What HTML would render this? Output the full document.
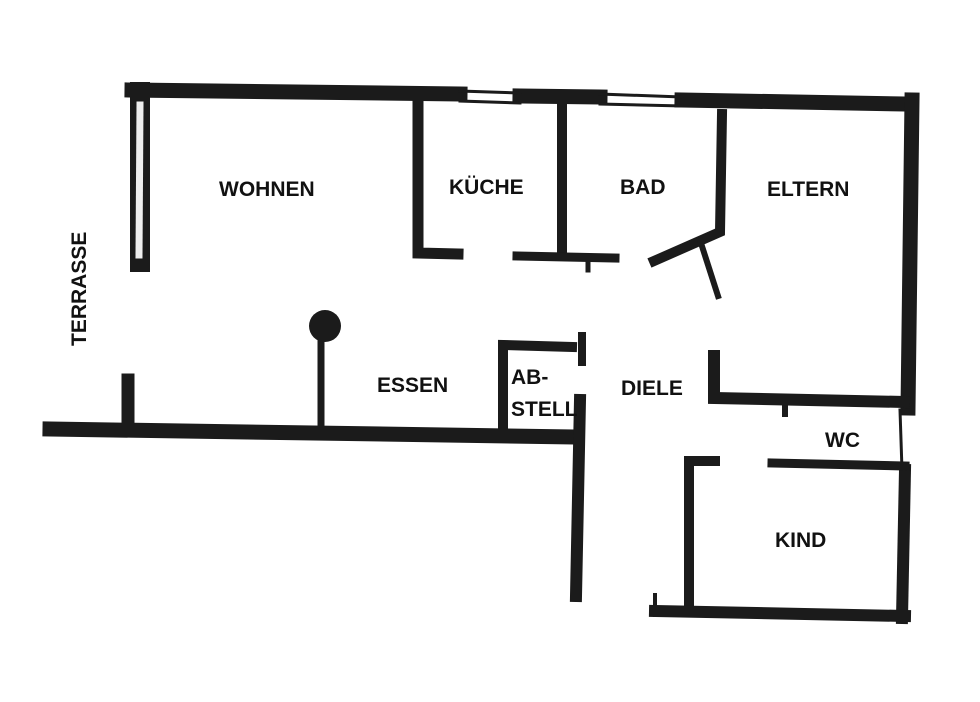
<!DOCTYPE html>
<html><head><meta charset="utf-8"><style>
html,body{margin:0;padding:0;background:#fff;width:980px;height:702px;overflow:hidden}
svg{display:block}
text{font-family:"Liberation Sans",sans-serif;font-weight:bold;font-size:21px;fill:#111}
</style></head><body>
<svg width="980" height="702" viewBox="0 0 980 702">
<g stroke="#1b1b1b" stroke-linecap="square" fill="none">
<path d="M132 90 L460 94 M520 96 L600 97 M682 100 L905 104" stroke-width="15"/>
<path d="M460 91 L520 93 M460 101 L520 103 M600 94 L682 97 M600 104 L682 106" stroke-width="3"/>
<path d="M140 92 L140 262" stroke-width="20"/>
<path d="M140 105 L139 255" stroke="#eee" stroke-width="7"/>
<path d="M912 100 L908 408" stroke-width="15"/>
<path d="M900 410 L902 470" stroke-width="3"/>
<path d="M905 470 L902 618" stroke-width="12"/>
<path d="M418 102 L418 253 L458 254" stroke-width="11"/>
<path d="M562 108 L562 256" stroke-width="10"/>
<path d="M517 256 L615 258" stroke-width="9"/>
<path d="M588 258 L588 270" stroke-width="5"/>
<path d="M722 114 L720 232 L654 261" stroke-width="10"/>
<path d="M700 240 L718 296" stroke-width="6"/>
<path d="M714 356 L714 398 L904 402" stroke-width="12"/>
<path d="M785 402 L785 414" stroke-width="6"/>
<path d="M50 429 L575 437" stroke-width="15"/>
<path d="M128 380 L128 422" stroke-width="13"/>
<path d="M321 330 L321 432" stroke-width="7"/>
<path d="M503 434 L503 345 L572 347" stroke-width="10"/>
<path d="M582 336 L582 362" stroke-width="8"/>
<path d="M580 400 L576 596" stroke-width="12"/>
<path d="M715 461 L689 461 L689 612" stroke-width="10"/>
<path d="M772 463 L905 466" stroke-width="9"/>
<path d="M655 611 L905 616" stroke-width="12"/>
<path d="M655 595 L655 615" stroke-width="4"/>
</g>
<circle cx="325" cy="326" r="16" fill="#1b1b1b"/>
<text x="219" y="196">WOHNEN</text>
<text x="449" y="194">KÜCHE</text>
<text x="620" y="194">BAD</text>
<text x="767" y="196">ELTERN</text>
<text x="377" y="392">ESSEN</text>
<text x="511" y="384">AB-</text>
<text x="511" y="416">STELL</text>
<text x="621" y="395">DIELE</text>
<text x="825" y="447">WC</text>
<text x="775" y="547">KIND</text>
<text transform="translate(86 346) rotate(-90)">TERRASSE</text>
</svg>
</body></html>
